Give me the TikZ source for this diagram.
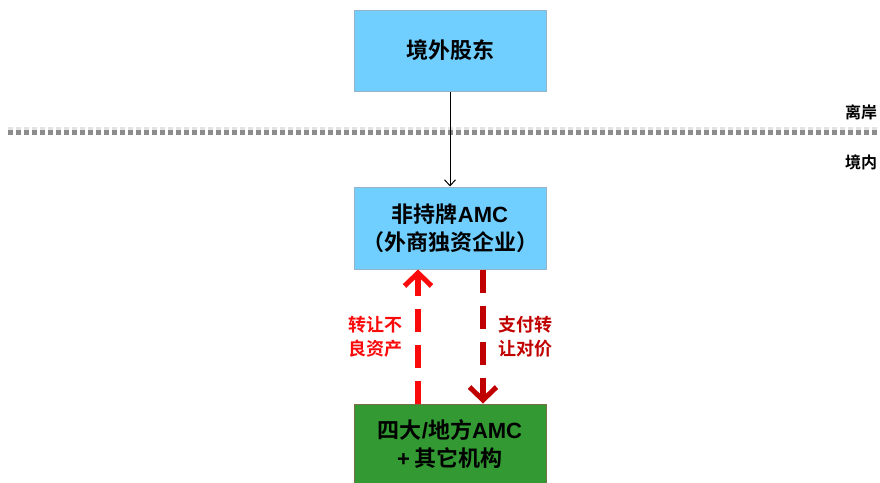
\documentclass[tikz,border=0pt]{standalone}
\usepackage{fontspec}
\setmainfont{Liberation Sans}
\newfontfamily\cjk{Noto Sans CJK SC}[BoldFont={Noto Sans CJK SC Bold}]
\newcommand{\lat}[1]{{\rmfamily\bfseries #1}}
\usetikzlibrary{arrows.meta}
\definecolor{boxblue}{RGB}{112,207,255}
\definecolor{boxblueline}{RGB}{150,180,200}
\definecolor{boxgreen}{RGB}{51,153,51}
\definecolor{boxgreenline}{RGB}{120,110,70}
\definecolor{redA}{RGB}{250,10,10}
\definecolor{redB}{RGB}{192,0,0}
\definecolor{dotgray}{RGB}{140,140,140}
\begin{document}
\begin{tikzpicture}[x=1pt,y=-1pt,
  box/.style={draw=boxblueline, line width=1pt, fill=boxblue, minimum width=192pt, inner sep=0pt, align=center, font=\cjk\bfseries\fontsize{22}{28}\selectfont},
  side/.style={font=\cjk\bfseries\fontsize{16}{18}\selectfont},
  lbl/.style={align=center, font=\cjk\bfseries\fontsize{18}{24}\selectfont},
  flow/.style={line width=5.5pt, dash pattern=on 23pt off 13pt, -{Straight Barb[length=13pt,width=27pt,line width=5pt]}}]
\useasboundingbox (0,0) rectangle (880,482);
\node[box, minimum height=81pt] (sh) at (450,50.5) {境外股东};
\node[box, minimum height=82pt] (amc) at (450,228) {非持牌\lat{AMC}\\（外商独资企业）};
\node[box, fill=boxgreen, draw=boxgreenline, minimum height=80pt] (big) at (450,444) {四大\lat{/}地方\lat{AMC}\\\lat{+} 其它机构};
\coordinate (l0) at (8,132);
\coordinate (l1) at (880,132);
\draw[line width=5pt, dotgray!40, dash pattern=on 5pt off 3pt, opacity=0.6] ([yshift=3pt]l0) -- ([yshift=3pt]l1);
\draw[line width=5pt, dotgray, dash pattern=on 5pt off 3pt] (l0) -- (l1);
\node[side] (off) at (861,112) {离岸};
\node[side] (on) at (861,162) {境内};
\draw[line width=1pt, -{Straight Barb[length=6pt,width=11pt]}] (sh) -- (amc);
\draw[flow, redA] (big.north -| 418,0) -- (amc.south -| 418,0);
\draw[flow, redB] (amc.south -| 483,0) -- (big.north -| 483,0);
\node[lbl, text=redA] (t1) at (375,337) {转让不\\良资产};
\node[lbl, text=redB] (t2) at (525,337) {支付转\\让对价};
\end{tikzpicture}
\end{document}
